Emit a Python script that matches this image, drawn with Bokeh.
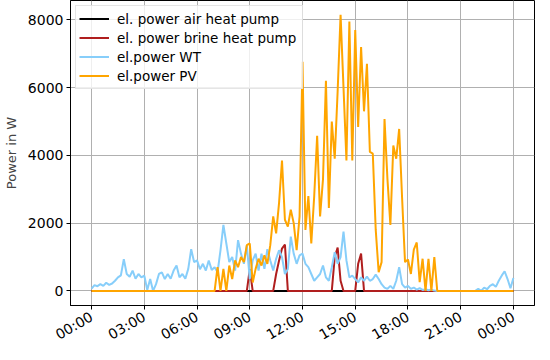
from bokeh.plotting import figure
from bokeh.models import FixedTicker, Range1d, Legend, LegendItem
from bokeh.embed import file_html
from bokeh.resources import INLINE

# time axis: 10-minute samples over one day (hours)
hours = [k / 6 for k in range(145)]

tick_hours = [0, 3, 6, 9, 12, 15, 18, 21, 24]
tick_labels = ["00:00", "03:00", "06:00", "09:00", "12:00", "15:00", "18:00", "21:00", "00:00"]

air_hp = [
    0, 0, 0, 0, 0, 0, 0, 0, 0, 0, 0, 0,
    0, 0, 0, 0, 0, 0, 0, 0, 0, 0, 0, 0,
    0, 0, 0, 0, 0, 0, 0, 0, 0, 0, 0, 0,
    0, 0, 0, 0, 0, 0, 0, 0, 0, 0, 0, 0,
    0, 0, 0, 0, 0, 0, 0, 0, 0, 0, 0, 0,
    0, 0, 0, 0, 0, 0, 0, 0, 0, 0, 0, 0,
    0, 0, 0, 0, 0, 0, 0, 0, 0, 0, 0, 0,
    0, 0, 0, 0, 0, 0, 0, 0, 0, 0, 0, 0,
    0, 0, 0, 0, 0, 0, 0, 0, 0, 0, 0, 0,
    0, 0, 0, 0, 0, 0, 0, 0, 0, 0, 0, 0,
    0, 0, 0, 0, 0, 0, 0, 0, 0, 0, 0, 0,
    0, 0, 0, 0, 0, 0, 0, 0, 0, 0, 0, 0,
    0,
]

brine_hp = [
    0, 0, 0, 0, 0, 0, 0, 0, 0, 0, 0, 0,
    0, 0, 0, 0, 0, 0, 0, 0, 0, 0, 0, 0,
    0, 0, 0, 0, 0, 0, 0, 0, 0, 0, 0, 0,
    0, 0, 0, 0, 0, 0, 0, 0, 0, 0, 0, 0,
    0, 0, 0, 0, 0, 0, 640, 0, 0, 0, 0, 0,
    0, 0, 0, 500, 900, 1250, 1370, 0, 0, 0, 0, 0,
    0, 0, 0, 0, 0, 0, 0, 0, 0, 0, 0, 1000,
    1280, 300, 0, 0, 0, 0, 0, 800, 1100, 0, 0, 0,
    0, 0, 0, 0, 0, 0, 0, 0, 0, 0, 0, 0,
    0, 0, 0, 0, 0, 0, 0, 0, 0, 0, 0, 0,
    0, 0, 0, 0, 0, 0, 0, 0, 0, 0, 0, 0,
    0, 0, 0, 0, 0, 0, 0, 0, 0, 0, 0, 0,
    0,
]

wt = [
    70, 170, 140, 200, 150, 240, 180, 220, 300, 400, 460, 940,
    500, 420, 600, 360, 500, 400, 450, 30, 350, 0, 200, 500,
    550, 350, 500, 360, 600, 750, 400, 500, 360, 650, 1230, 850,
    900, 640, 800, 600, 900, 620, 700, 550, 1200, 1950, 1400, 850,
    1000, 600, 1500, 1100, 800, 1340, 350, 900, 1100, 600, 1100, 650,
    1230, 900, 600, 950, 1200, 1000, 500, 650, 1600, 1100, 800, 1050,
    1100, 800, 700, 500, 300, 400, 500, 750, 400, 300, 700, 1140,
    800, 1000, 1750, 900, 400, 450, 350, 250, 400, 300, 420, 300,
    350, 480, 350, 200, 100, 60, 150, 60, 300, 700, 200, 100,
    150, 60, 100, 40, 80, 30, 50, 20, 40, 10, 0, 0,
    0, 0, 0, 0, 0, 0, 0, 0, 0, 0, 0, 0,
    60, 0, 100, 50, 150, 200, 120, 300, 450, 580, 350, 80,
    380,
]

pv = [
    0, 0, 0, 0, 0, 0, 0, 0, 0, 0, 0, 0,
    0, 0, 0, 0, 0, 0, 0, 0, 0, 0, 0, 0,
    0, 0, 0, 0, 0, 0, 0, 0, 0, 0, 0, 0,
    0, 0, 0, 0, 0, 0, 0, 700, 0, 650, 0, 750,
    350, 900, 700, 1000, 850, 1350, 1400, 250, 650, 950, 750, 1050,
    800, 1350, 2200, 1700, 2600, 3850, 2100, 1900, 2400, 2000, 1200, 2200,
    6760, 1800, 2800, 1400, 2800, 4580, 2200, 3300, 6200, 2450, 5000, 3900,
    5900, 8150, 6000, 3850, 7950, 3850, 7700, 4840, 7200, 5300, 6700, 4100,
    4050, 1800, 550, 850, 5070, 3300, 1950, 4290, 3900, 4780, 2740, 850,
    930, 500, 1220, 1430, 260, 950, 0, 950, 0, 1000, 0, 0,
    0, 0, 0, 0, 0, 0, 0, 0, 0, 0, 0, 0,
    0, 0, 0, 0, 0, 0, 0, 0, 0, 0, 0, 0,
    0,
]

series_names = ["el. power air heat pump", "el. power brine heat pump", "el.power WT", "el.power PV"]
series_colors = ["#000000", "#b01e1e", "#87cefa", "#ffa500"]

FONT = "DejaVu Sans"

p = figure(width=536, height=352, output_backend="svg", toolbar_location=None,
           x_range=Range1d(-1.2, 25.2), y_range=Range1d(-430, 8570),
           min_border_left=62, min_border_right=2, min_border_top=0, min_border_bottom=30)

items = []
for name, col, ys in zip(series_names, series_colors, [air_hp, brine_hp, wt, pv]):
    r = p.line(hours, ys, line_color=col, line_width=2)
    items.append(LegendItem(label=name, renderers=[r]))

legend = Legend(items=items, location="top_left", margin=5, padding=3,
                label_text_font=FONT, label_text_font_size="13.5px", label_text_color="#000000",
                glyph_width=30, glyph_height=19, label_height=19, label_width=182,
                label_standoff=8, spacing=0,
                border_line_color="#cccccc", border_line_width=1,
                background_fill_color="white", background_fill_alpha=0.8)
p.add_layout(legend)

p.xaxis.ticker = FixedTicker(ticks=tick_hours)
p.xaxis.major_label_overrides = {h: lab for h, lab in zip(tick_hours, tick_labels)}
p.xaxis.major_label_orientation = 0.5236
p.yaxis.ticker = FixedTicker(ticks=[0, 2000, 4000, 6000, 8000])
p.yaxis.axis_label = "Power in W"
p.yaxis.axis_label_text_font = FONT
p.yaxis.axis_label_text_font_size = "13px"
p.yaxis.axis_label_text_font_style = "normal"
p.yaxis.axis_label_standoff = 6

for ax in (p.xaxis, p.yaxis):
    ax.major_label_text_font = FONT
    ax.major_label_text_font_size = "14px"
    ax.major_label_text_color = "#000000"
    ax.major_tick_out = 4
    ax.major_tick_in = 0
    ax.minor_tick_out = 0
    ax.minor_tick_in = 0
    ax.axis_line_color = "#000000"
    ax.major_tick_line_color = "#000000"

p.xaxis.major_label_standoff = 6
p.yaxis.major_label_standoff = 3

p.xgrid.grid_line_color = "#b0b0b0"
p.ygrid.grid_line_color = "#b0b0b0"
p.xgrid.grid_line_width = 1
p.ygrid.grid_line_width = 1
p.outline_line_color = "#000000"
p.outline_line_width = 1
p.outline_line_alpha = 1
p.background_fill_color = "white"
p.border_fill_color = "white"

open("out.html", "w").write(file_html(p, INLINE))
